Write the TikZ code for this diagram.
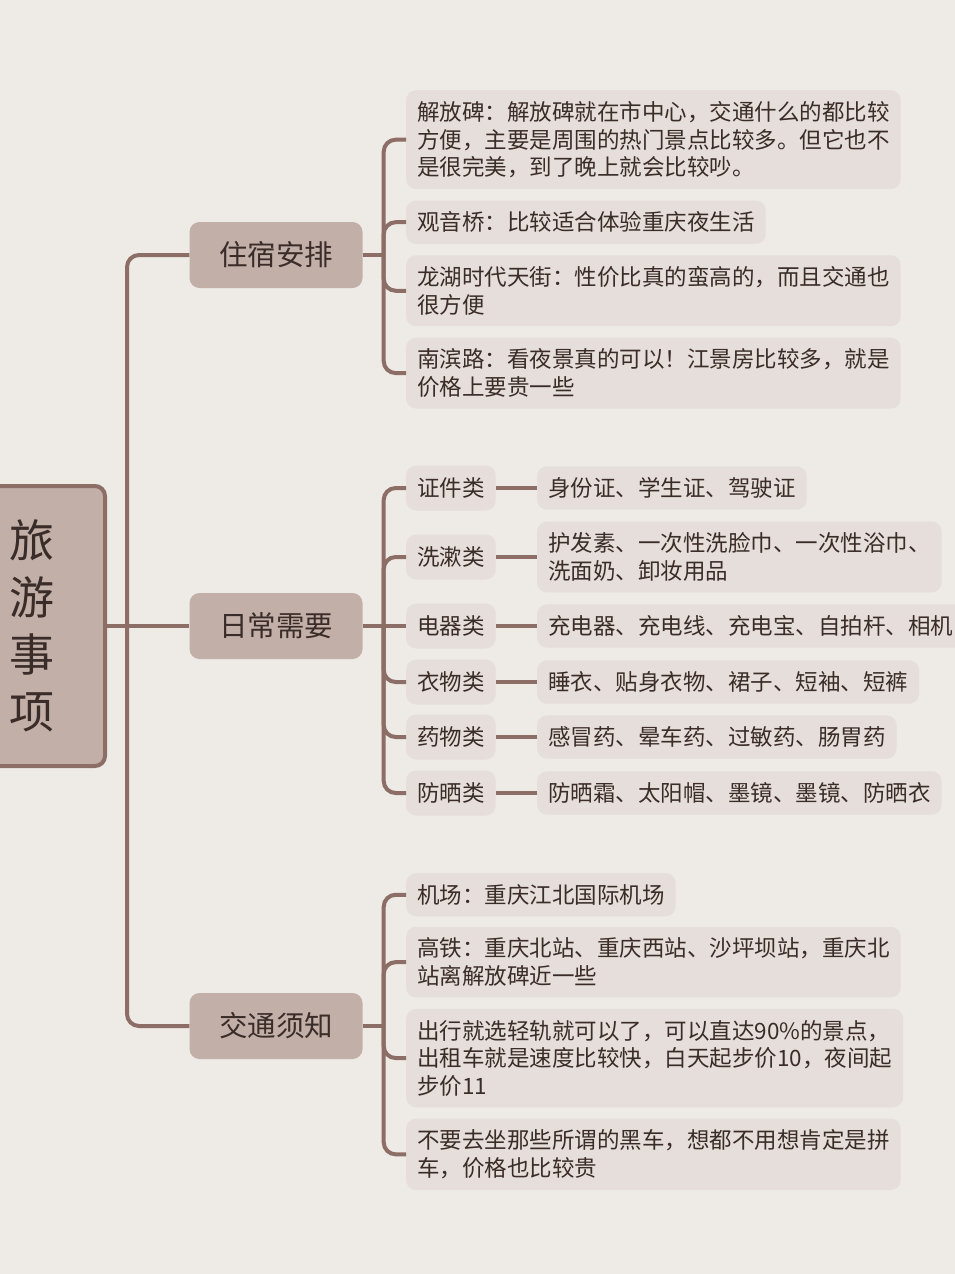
\documentclass[tikz,border=0pt]{standalone}
\usepackage{fontspec}
\usepackage{xcolor}
\usepackage{tikz}
\usetikzlibrary{positioning}
\newfontfamily\cjk{Noto Sans CJK SC}
\definecolor{paper}{HTML}{EEEAE6}
\definecolor{branch}{HTML}{8C6E66}
\definecolor{topicfill}{HTML}{C2AFA8}
\definecolor{leaffill}{HTML}{E6DEDA}
\definecolor{ink}{HTML}{3A2C28}

\begin{document}
\begin{tikzpicture}[
        x=1pt, y=-1pt,
        root/.style={
            draw=branch,
            line width=4pt,
            fill=topicfill,
            rounded corners=10pt,
            minimum width=146pt,
            minimum height=280pt,
            align=center,
            text=ink,
            font=\cjk\fontsize{45}{57}\selectfont
        },
        topic/.style={
            fill=topicfill,
            rounded corners=10pt,
            minimum width=173pt,
            minimum height=66pt,
            text=ink,
            font=\cjk\fontsize{28.5}{34}\selectfont
        },
        leaf/.style={
            fill=leaffill,
            rounded corners=10pt,
            inner xsep=11pt,
            inner ysep=11.2pt,
            align=left,
            text=ink,
            font=\cjk\fontsize{22.5}{27.5}\selectfont
        },
        kind/.style={leaf, minimum height=45pt},
        link/.style={draw=branch, line width=4pt},
        elbow/.style={link, rounded corners=12pt}
    ]

        \useasboundingbox (0,0) rectangle (955,1274);
        \fill[paper] (0,0) rectangle (955,1274);

        \node[root] (root) at (32,626) {旅\\游\\事\\项};

        \node[topic] (stay) at (276,255) {住宿安排};
        \node[topic] (daily) at (276,626) {日常需要};
        \node[topic] (traffic) at (276,1026) {交通须知};

        \node[leaf, anchor=north west] (jfb) at (406,90)
            {解放碑：解放碑就在市中心，交通什么的都比较\\
            方便，主要是周围的热门景点比较多。但它也不\\
            是很完美，到了晚上就会比较吵。};
        \node[leaf, below=11pt of jfb.south west, anchor=north west] (gyq)
            {观音桥：比较适合体验重庆夜生活};
        \node[leaf, below=11pt of gyq.south west, anchor=north west] (lh)
            {龙湖时代天街：性价比真的蛮高的，而且交通也\\
            很方便};
        \node[leaf, below=11pt of lh.south west, anchor=north west] (nbl)
            {南滨路：看夜景真的可以！江景房比较多，就是\\
            价格上要贵一些};

        \node[kind, anchor=west] (cert) at (406,488) {证件类};
        \node[kind, anchor=west] (wash) at (406,557) {洗漱类};
        \node[kind, anchor=west] (elec) at (406,626) {电器类};
        \node[kind, anchor=west] (cloth) at (406,682) {衣物类};
        \node[kind, anchor=west] (med) at (406,737) {药物类};
        \node[kind, anchor=west] (sun) at (406,793) {防晒类};

        \node[leaf, right=41pt of cert] (certList) {身份证、学生证、驾驶证};
        \node[leaf, right=41pt of wash] (washList)
            {护发素、一次性洗脸巾、一次性浴巾、\\
            洗面奶、卸妆用品};
        \node[leaf, right=41pt of elec] (elecList) {充电器、充电线、充电宝、自拍杆、相机};
        \node[leaf, right=41pt of cloth] (clothList) {睡衣、贴身衣物、裙子、短袖、短裤};
        \node[leaf, right=41pt of med] (medList) {感冒药、晕车药、过敏药、肠胃药};
        \node[leaf, right=41pt of sun] (sunList) {防晒霜、太阳帽、墨镜、墨镜、防晒衣};

        \node[leaf, anchor=north west] (air) at (406,873) {机场：重庆江北国际机场};
        \node[leaf, below=10pt of air.south west, anchor=north west] (rail)
            {高铁：重庆北站、重庆西站、沙坪坝站，重庆北\\
            站离解放碑近一些};
        \node[leaf, below=11pt of rail.south west, anchor=north west] (metro)
            {出行就选轻轨就可以了，可以直达90\%的景点，\\
            出租车就是速度比较快，白天起步价10，夜间起\\
            步价11};
        \node[leaf, below=11pt of metro.south west, anchor=north west] (heiche)
            {不要去坐那些所谓的黑车，想都不用想肯定是拼\\
            车，价格也比较贵};

        \coordinate (rj) at ([xshift=20pt]root.east);
        \draw[link] (root.east) -- (daily.west);
        \draw[elbow] (rj) |- (stay.west);
        \draw[elbow] (rj) |- (traffic.west);

        \draw[link] (stay.east) -- ++(21pt,0) coordinate (sj);
        \draw[elbow] (sj) |- (jfb.west);
        \draw[elbow] (sj) |- (gyq.west);
        \draw[elbow] (sj) |- (lh.west);
        \draw[elbow] (sj) |- (nbl.west);

        \draw[link] (daily.east) -- ++(21pt,0) coordinate (dj);
        \draw[elbow] (dj) |- (cert.west);
        \draw[elbow] (dj) |- (wash.west);
        \draw[link] (dj) -- (elec.west);
        \draw[elbow] (dj) |- (cloth.west);
        \draw[elbow] (dj) |- (med.west);
        \draw[elbow] (dj) |- (sun.west);

        \draw[link] (cert) -- (certList);
        \draw[link] (wash) -- (washList);
        \draw[link] (elec) -- (elecList);
        \draw[link] (cloth) -- (clothList);
        \draw[link] (med) -- (medList);
        \draw[link] (sun) -- (sunList);

        \draw[link] (traffic.east) -- ++(21pt,0) coordinate (tj);
        \draw[elbow] (tj) |- (air.west);
        \draw[elbow] (tj) |- (rail.west);
        \draw[elbow] (tj) |- (metro.west);
        \draw[elbow] (tj) |- (heiche.west);

    \end{tikzpicture}
\end{document}
